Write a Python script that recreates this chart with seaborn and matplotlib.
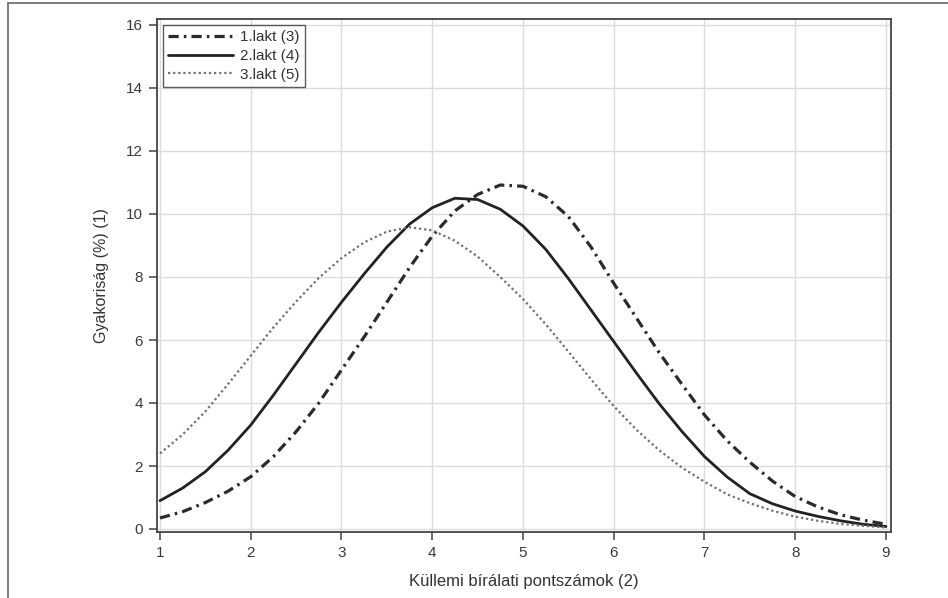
import matplotlib
matplotlib.use("Agg")
import matplotlib.pyplot as plt
from matplotlib.lines import Line2D
import seaborn as sns
import pandas as pd

# ---- data ----
x_vals = [1.0, 1.25, 1.5, 1.75, 2.0, 2.25, 2.5, 2.75, 3.0, 3.25, 3.5, 3.75,
          4.0, 4.25, 4.5, 4.75, 5.0, 5.25, 5.5, 5.75, 6.0, 6.25, 6.5, 6.75,
          7.0, 7.25, 7.5, 7.75, 8.0, 8.25, 8.5, 8.75, 9.0]

lakt1 = [0.35, 0.55, 0.84, 1.2, 1.66, 2.3, 3.09, 4.0, 5.05, 6.1, 7.2, 8.3,
         9.3, 10.1, 10.62, 10.92, 10.88, 10.55, 9.92, 8.95, 7.8, 6.7, 5.6, 4.6,
         3.62, 2.8, 2.12, 1.52, 1.03, 0.7, 0.45, 0.28, 0.15]

lakt2 = [0.9, 1.3, 1.82, 2.5, 3.3, 4.25, 5.25, 6.25, 7.2, 8.1, 8.95, 9.68,
         10.2, 10.5, 10.46, 10.15, 9.62, 8.88, 7.95, 6.95, 5.95, 4.95, 3.98, 3.1,
         2.3, 1.65, 1.12, 0.8, 0.57, 0.4, 0.26, 0.15, 0.08]

lakt3 = [2.4, 3.0, 3.73, 4.6, 5.5, 6.4, 7.22, 7.97, 8.6, 9.1, 9.44, 9.58,
         9.48, 9.15, 8.65, 8.0, 7.3, 6.5, 5.63, 4.75, 3.9, 3.15, 2.5, 1.95,
         1.5, 1.1, 0.82, 0.58, 0.39, 0.26, 0.16, 0.1, 0.05]

series_labels = ["1.lakt (3)", "2.lakt (4)", "3.lakt (5)"]
x_ticks = [1, 2, 3, 4, 5, 6, 7, 8, 9]
y_ticks = [0, 2, 4, 6, 8, 10, 12, 14, 16]
x_label = "Küllemi bírálati pontszámok (2)"
y_label = "Gyakoriság (%) (1)"

# ---- plotting ----
sns.set_theme(style="white")
plt.rcParams["font.family"] = ["Liberation Sans", "DejaVu Sans"]

fig = plt.figure(figsize=(9.48, 5.98), dpi=100)
ax = fig.add_axes([157 / 948, 66 / 598, (891 - 157) / 948, (532 - 19) / 598])

styles = [
    dict(color="#2b2b2b", lw=2.3, ls=(0, (3.2, 1.6, 0.8, 1.6))),
    dict(color="#222222", lw=2.0, ls="-"),
    dict(color="#707070", lw=1.6, ls=(0, (1, 1.3))),
]
for vals, lab, st in zip([lakt1, lakt2, lakt3], series_labels, styles):
    df = pd.DataFrame({"x": x_vals, "y": vals})
    sns.lineplot(data=df, x="x", y="y", ax=ax, label=lab, color=st["color"],
                 linewidth=st["lw"], linestyle=st["ls"])

ax.set_xlim(1 - 3 / 90.75, 9 + 5 / 90.75)
ax.set_ylim(-3 / 31.5, 16 + 6 / 31.5)
ax.set_xticks(x_ticks)
ax.set_yticks(y_ticks)
ax.grid(True, color="#dcdcdc", linewidth=1.0)
ax.set_axisbelow(True)
for s in ax.spines.values():
    s.set_color("#444444")
    s.set_linewidth(1.3)
ax.tick_params(axis="both", which="major", direction="out", length=6, width=1.1,
               color="#444444", labelsize=11, labelcolor="#3a3a3a", pad=4,
               bottom=True, left=True)
ax.set_xlabel(x_label, fontsize=12, color="#333333", labelpad=10)
ax.set_ylabel(y_label, fontsize=11.5, color="#333333", labelpad=12)

leg = ax.legend(loc="upper left", frameon=True, fancybox=False, fontsize=11,
                handlelength=4.2, borderpad=0.35, labelspacing=0.3,
                handletextpad=0.5, borderaxespad=0.4)
leg.get_frame().set_edgecolor("#333333")
leg.get_frame().set_linewidth(1.0)
for t in leg.get_texts():
    t.set_color("#333333")

# figure frame (top and left edges)
fig.add_artist(Line2D([8 / 948, 1.0], [1 - 3 / 598, 1 - 3 / 598],
                      transform=fig.transFigure, color="#666666", lw=1.2))
fig.add_artist(Line2D([8 / 948, 8 / 948], [0, 1 - 3 / 598],
                      transform=fig.transFigure, color="#666666", lw=1.2))

fig.savefig("out.png", dpi=100)
